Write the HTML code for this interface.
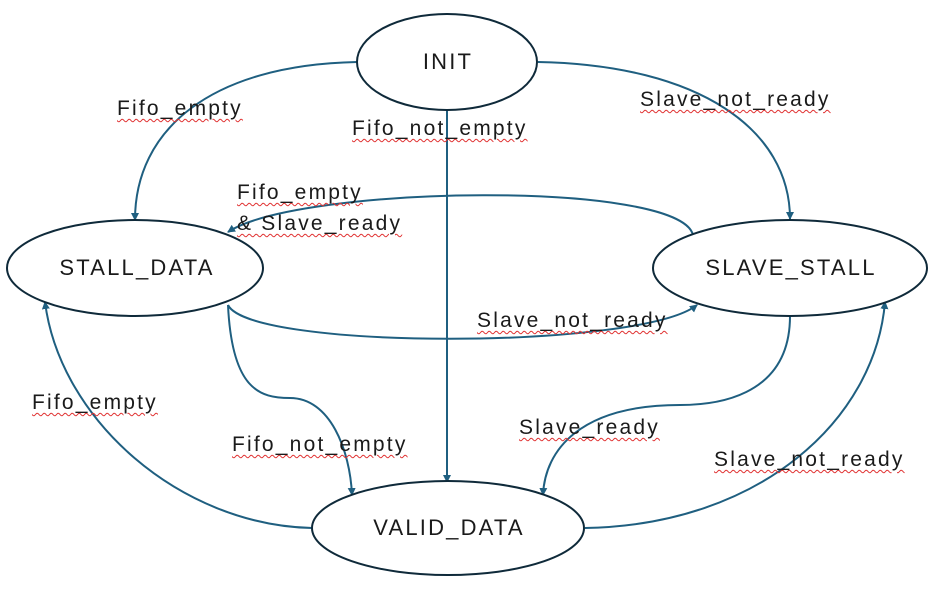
<!DOCTYPE html>
<html><head><meta charset="utf-8"><style>
html,body{margin:0;padding:0;background:#fff}
#c{position:relative;width:933px;height:592px;overflow:hidden;font-family:"Liberation Sans","Noto Sans CJK JP",sans-serif}
.l{position:absolute;font-size:21px;letter-spacing:2.2px;color:#1a1a1a;white-space:nowrap;line-height:24px;text-decoration:underline wavy #e03030;text-decoration-thickness:1px;text-underline-offset:3px}
.n{position:absolute;font-size:22px;letter-spacing:2.2px;color:#1a1a1a;white-space:nowrap;transform:translate(-50%,-50%)}
</style></head><body><div id="c">
<svg width="933" height="592" style="position:absolute;left:0;top:0">
<defs><marker id="a" markerWidth="8" markerHeight="8" refX="7" refY="4" orient="auto" markerUnits="userSpaceOnUse"><path d="M0,0 L8,4 L0,8 Z" fill="#1f5f80"/></marker></defs>
<g fill="none" stroke="#1f5f80" stroke-width="2" marker-end="url(#a)">
<path d="M357,62 C210,65 135,130 135,220"/>
<path d="M447,110 L447,482"/>
<path d="M538,62 C700,65 790,130 790,219"/>
<path d="M693,235 C680,180 300,185 228,232"/>
<path d="M228,305 C250,350 640,350 697,305"/>
<path d="M228,305 C232,390 260,398 290,398 C330,398 350,450 352,495"/>
<path d="M790,316 C790,400 710,405 680,405 C580,405 545,450 543,495"/>
<path d="M312,528 C180,525 60,420 45,302"/>
<path d="M585,528 C760,525 875,420 885,302"/>
</g>
<g fill="#fff" stroke="#0f2a3a" stroke-width="2">
<ellipse cx="447" cy="62" rx="90" ry="48"/>
<ellipse cx="135" cy="268" rx="128" ry="48"/>
<ellipse cx="790" cy="268" rx="137" ry="48"/>
<ellipse cx="448" cy="528" rx="136" ry="47"/>
</g>
</svg>
<div class="n" style="left:448px;top:62px">INIT</div>
<div class="n" style="left:137px;top:268px">STALL_DATA</div>
<div class="n" style="left:791px;top:268px">SLAVE_STALL</div>
<div class="n" style="left:449px;top:528px">VALID_DATA</div>
<div class="l" style="left:117px;top:97px">Fifo_empty</div>
<div class="l" style="left:352px;top:117px">Fifo_not_empty</div>
<div class="l" style="left:640px;top:88px">Slave_not_ready</div>
<div class="l" style="left:237px;top:181px">Fifo_empty</div>
<div class="l" style="left:237px;top:212px">&amp; Slave_ready</div>
<div class="l" style="left:477px;top:309px">Slave_not_ready</div>
<div class="l" style="left:32px;top:391px">Fifo_empty</div>
<div class="l" style="left:232px;top:433px">Fifo_not_empty</div>
<div class="l" style="left:519px;top:416px">Slave_ready</div>
<div class="l" style="left:714px;top:448px">Slave_not_ready</div>
</div></body></html>
